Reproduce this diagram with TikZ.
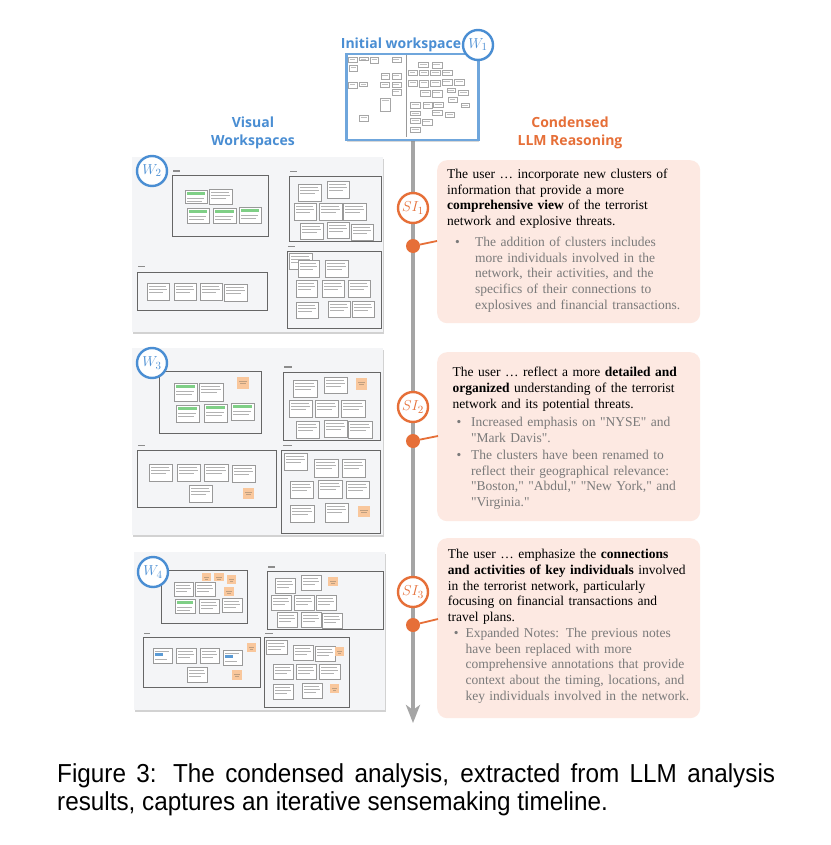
\documentclass[tikz,border=0pt]{standalone}
\usepackage{fontspec}
\usepackage{graphicx}
\setmainfont{Liberation Serif}[Ligatures=TeXOff]
\newfontfamily\capfont{Liberation Sans}
\newfontfamily\hdfont{Open Sans}
\usetikzlibrary{arrows.meta,shadows}

\definecolor{wsblue}{HTML}{4A8ED3}
\definecolor{wsframe}{HTML}{6FA6DC}
\definecolor{llmorange}{HTML}{E66F38}
\definecolor{boxpink}{HTML}{FDE9E2}
\definecolor{panelbg}{HTML}{F4F5F7}
\definecolor{tlgray}{HTML}{A5A5A5}
\definecolor{bulgray}{HTML}{7A7A7A}
\definecolor{stickyor}{HTML}{F9C79C}
\definecolor{hlgreen}{HTML}{7FCF86}
\definecolor{hlblue}{HTML}{5B9BD5}

\tikzset{
 panel/.style={fill=panelbg, draw=none, anchor=north west, inner sep=0pt,
   drop shadow={shadow xshift=1.2pt, shadow yshift=-2.2pt, opacity=0.35}},
 iframe/.style={fill=white, draw=wsframe, line width=2.5pt, anchor=north west, inner sep=0pt,
   drop shadow={shadow xshift=1.2pt, shadow yshift=-2pt, opacity=0.3}},
 grp/.style={draw=black!60, line width=0.5pt},
 lbl/.style={draw=black!45, line width=1.1pt},
 cardline/.style={draw=black!40, fill=white, line width=0.35pt},
 tinycard/.style={draw=black!35, fill=white, line width=0.3pt},
 cardtext/.style={draw=black!30, line width=0.45pt},
 wcirc/.style={circle, draw=wsblue, line width=2.4pt, fill=white, minimum size=30pt, inner sep=0pt,
   text=wsblue, font=\fontsize{15.5}{15.5}\selectfont,
   drop shadow={shadow xshift=0.8pt, shadow yshift=-1pt, opacity=0.25}},
 sicirc/.style={circle, draw=llmorange, line width=2.4pt, fill=white, minimum size=30pt, inner sep=0pt,
   text=llmorange, font=\fontsize{15.5}{15.5}\selectfont},
 odot/.style={circle, fill=llmorange, minimum size=14pt, inner sep=0pt},
 olink/.style={draw=llmorange, line width=1.8pt},
 llmbox/.style={fill=boxpink, rounded corners=10pt, anchor=north west, inner sep=0pt},
 llmtext/.style={anchor=north west, inner sep=0pt, text width=250pt,
   font=\fontsize{13.5}{15.75}\selectfont},
 hdblue/.style={text=wsblue, font=\hdfont\bfseries\fontsize{14}{14}\selectfont, anchor=base, inner sep=0pt},
 hdorange/.style={hdblue, text=llmorange},
 timeline/.style={draw=tlgray, line width=3.5pt, -{Stealth[length=18pt, width=14pt, inset=5pt]}},
}

\newcommand{\wcard}[4]{%
  \path[cardline] (#1,#2) rectangle (#3,#4);
  \draw[cardtext] ([shift={(2,3.5)}]#1,#2) -- ([shift={(-3,3.5)}]#3,#2)
    ([shift={(2,6.5)}]#1,#2) -- ([shift={(-2,6.5)}]#3,#2)
    ([shift={(2,9.5)}]#1,#2) -- ([shift={(-6,9.5)}]#3,#2);}
\newcommand{\gcard}[4]{%
  \path[cardline] (#1,#2) rectangle (#3,#4);
  \fill[hlgreen] ([shift={(2,2)}]#1,#2) rectangle ([shift={(-2,5)}]#3,#2);
  \draw[cardtext] ([shift={(2,8)}]#1,#2) -- ([shift={(-3,8)}]#3,#2)
    ([shift={(2,11)}]#1,#2) -- ([shift={(-5,11)}]#3,#2);}
\newcommand{\bcard}[4]{%
  \path[cardline] (#1,#2) rectangle (#3,#4);
  \fill[hlblue] ([shift={(2,5)}]#1,#2) rectangle ([shift={(-9,8)}]#3,#2);
  \draw[cardtext] ([shift={(2,3)}]#1,#2) -- ([shift={(-3,3)}]#3,#2)
    ([shift={(2,11)}]#1,#2) -- ([shift={(-5,11)}]#3,#2);}
\newcommand{\scard}[4]{%
  \fill[stickyor] (#1,#2) rectangle (#3,#4);
  \draw[orange!50!black!50, line width=0.35pt] ([shift={(2,4)}]#1,#2) -- ([shift={(-2,4)}]#3,#2)
    ([shift={(3,6.5)}]#1,#2) -- ([shift={(-3,6.5)}]#3,#2);}
\newcommand{\tcard}[4]{%
  \path[tinycard] (#1,#2) rectangle (#3,#4);
  \draw[black!25, line width=0.3pt] ([shift={(1.5,2)}]#1,#2) -- ([shift={(-1.5,2)}]#3,#2);}

\begin{document}
\begin{tikzpicture}[x=1pt, y=-1pt]
\useasboundingbox (0,0) rectangle (830,845);
\fill[white] (0,0) rectangle (830,845);

% ---------- headers ----------
\node[hdblue] (hiw) at (401,49) {Initial workspace};
\node[hdblue] (hv1) at (253,128) {Visual};
\node[hdblue] (hv2) at (253,146) {Workspaces};
\node[hdorange] (hl1) at (570,128) {Condensed};
\node[hdorange] (hl2) at (570,146) {LLM Reasoning};

% ---------- timeline ----------
\coordinate (tltop) at (413,139);
\coordinate (tlend) at (413,723);
\draw[timeline] (tltop) -- (tlend);

% ---------- initial workspace ----------
\node[iframe, minimum width=132pt, minimum height=86pt] (p1) at (345,53) {};
\draw[black!40, line width=0.4pt] (406,55) -- (406,137);
\tcard{348.3}{56.7}{356.7}{61.7}
\tcard{359.3}{56.7}{367.7}{60}
\tcard{370}{56.7}{378.3}{63.3}
\tcard{391.7}{56.7}{400.7}{61.7}
\tcard{349.3}{65}{357.3}{70.7}
\tcard{348.3}{81.7}{356.7}{88.3}
\tcard{359.3}{81.7}{367.3}{86}
\tcard{380.7}{72.7}{389.3}{79.3}
\tcard{391.7}{72.7}{400.7}{79.3}
\tcard{380}{81.7}{389.3}{86.7}
\tcard{391.7}{81.7}{400.7}{86.7}
\tcard{391.7}{89.3}{400.7}{95}
\tcard{380}{98.3}{390}{110.7}
\tcard{359.3}{115}{368.3}{120.7}
\tcard{418.3}{61.7}{428.3}{66.7}
\tcard{431.7}{61.7}{441.7}{68.3}
\tcard{408.3}{70}{416.7}{75}
\tcard{419.3}{70}{428.3}{75}
\tcard{430}{70}{440}{75}
\tcard{441.7}{70}{451.7}{75}
\tcard{408.3}{80}{417.3}{85.7}
\tcard{419.3}{80}{428.3}{86.7}
\tcard{430}{80}{440}{85.7}
\tcard{441.7}{79.3}{451.7}{85}
\tcard{454}{79.3}{464}{85}
\tcard{420}{90}{430}{96}
\tcard{431.7}{90}{441.7}{96.7}
\tcard{446.7}{88.3}{455}{91.7}
\tcard{458.3}{90}{468.3}{95}
\tcard{448.3}{96.7}{456.7}{101.7}
\tcard{410}{101.7}{420}{108.3}
\tcard{422.7}{101.7}{431.7}{108.3}
\tcard{433.3}{101.7}{443.3}{106.7}
\tcard{460.7}{103.3}{469.3}{107.3}
\tcard{410}{110.7}{420}{115}
\tcard{431.7}{110}{441.7}{115}
\tcard{445}{111.7}{454}{116.7}
\tcard{410}{118.3}{420}{123.3}
\tcard{421.7}{119.3}{431.7}{125}
\tcard{410}{126.7}{420}{131.7}

% ---------- W2 panel ----------
\node[panel, minimum width=251pt, minimum height=175pt] (p2) at (132,157) {};
\draw[grp] (172,175) rectangle (268,236);
\draw[grp] (289,176) rectangle (381,241);
\draw[grp] (287,251) rectangle (381,328);
\draw[grp] (137,272) rectangle (267,310);
\draw[lbl] (173,171) -- (180,171);
\draw[lbl] (290,171.5) -- (297,171.5);
\draw[lbl] (288,246.5) -- (295,246.5);
\draw[lbl] (138,266.5) -- (145,266.5);
\gcard{185}{190}{207}{203}
\wcard{209}{189}{232}{204}
\gcard{187}{208}{209}{223}
\gcard{213}{208}{236}{223}
\gcard{239}{207}{261}{223}
\wcard{298}{184}{321}{201}
\wcard{327}{181}{349}{198}
\wcard{294}{203}{316}{220}
\wcard{319}{203}{342}{220}
\wcard{343}{203}{366}{220}
\wcard{300}{223}{323}{239}
\wcard{327}{222}{349}{238}
\wcard{351}{224}{373}{240}
\wcard{289}{253}{312}{269}
\wcard{298}{260}{319}{277}
\wcard{325}{260}{348}{277}
\wcard{296}{280}{317}{297}
\wcard{322}{280}{344}{297}
\wcard{348}{280}{370}{297}
\wcard{296}{302}{318}{318}
\wcard{328}{301}{350}{317}
\wcard{352}{301}{374}{317}
\wcard{147}{283}{169}{300}
\wcard{174}{283}{196}{300}
\wcard{200}{283}{222}{300}
\wcard{224}{284}{247}{301}

% ---------- W3 panel ----------
\node[panel, minimum width=251pt, minimum height=187pt] (p3) at (132,348) {};
\draw[grp] (159,371) rectangle (261,433);
\draw[grp] (283,372) rectangle (380,440);
\draw[grp] (137,450) rectangle (276,507);
\draw[grp] (281,450) rectangle (380,533);
\draw[lbl] (284,367) -- (292,367);
\draw[lbl] (138,445.5) -- (145,445.5);
\draw[lbl] (283,445.5) -- (292,445.5);
\gcard{174}{383}{197}{401}
\wcard{199}{383}{223}{401}
\gcard{176}{405}{199}{422}
\gcard{204}{404}{227}{422}
\gcard{231}{403}{254}{420}
\scard{237}{377}{249}{389}
\wcard{293}{380}{317}{397}
\wcard{324}{377}{347}{393}
\scard{356}{378}{367}{390}
\wcard{289}{400}{312}{417}
\wcard{315}{400}{338}{417}
\wcard{341}{400}{365}{417}
\wcard{296}{421}{319}{438}
\wcard{324}{420}{347}{437}
\wcard{348}{421}{372}{438}
\wcard{149}{464}{172}{481}
\wcard{177}{464}{200}{481}
\wcard{204}{464}{228}{481}
\wcard{232}{465}{255}{482}
\wcard{189}{485}{212}{502}
\scard{243}{488}{254}{499}
\wcard{284}{453}{307}{470}
\wcard{314}{459}{338}{477}
\wcard{342}{459}{365}{477}
\wcard{290}{481}{313}{498}
\wcard{318}{480}{342}{498}
\wcard{346}{481}{369}{498}
\wcard{290}{505}{314}{522}
\wcard{325}{503}{348}{522}
\scard{358}{506}{370}{517}

% ---------- W4 panel ----------
\node[panel, minimum width=251pt, minimum height=158pt] (p4) at (134,552) {};
\draw[grp] (161,570) rectangle (247,623);
\draw[grp] (267,571) rectangle (383,629);
\draw[grp] (143,637) rectangle (260,687);
\draw[grp] (264,637) rectangle (349,707);
\draw[lbl] (268,567) -- (275,567);
\draw[lbl] (144,633.5) -- (150,633.5);
\draw[lbl] (265,633.5) -- (273,633.5);
\wcard{174}{582}{193}{596}
\wcard{195}{582}{215}{596}
\gcard{175}{599}{195}{613}
\wcard{199}{599}{219}{613}
\wcard{222}{598}{242}{612}
\scard{202}{573}{211}{581}
\scard{214}{573}{224}{581}
\scard{227}{575}{236}{584}
\scard{224}{587}{234}{596}
\wcard{275}{578}{295}{593}
\wcard{301}{575}{321}{590}
\scard{328}{577}{338}{586}
\wcard{271}{595}{291}{610}
\wcard{294}{595}{314}{610}
\wcard{316}{595}{336}{610}
\wcard{277}{612}{297}{627}
\wcard{301}{612}{321}{627}
\wcard{322}{613}{342}{628}
\bcard{153}{648}{172}{663}
\wcard{176}{648}{196}{663}
\wcard{200}{648}{219}{663}
\bcard{223}{650}{242}{665}
\wcard{187}{667}{207}{682}
\scard{247}{643}{256}{652}
\scard{232}{670}{242}{680}
\wcard{266}{640}{287}{654}
\wcard{293}{645}{313}{660}
\wcard{315}{646}{335}{661}
\scard{335}{647}{344}{656}
\wcard{273}{664}{293}{679}
\wcard{296}{664}{316}{679}
\wcard{319}{664}{340}{679}
\wcard{273}{684}{293}{699}
\wcard{302}{683}{322}{698}
\scard{330}{684}{339}{693}

% ---------- W circles ----------
\node[wcirc] (w1) at (478,45) {$W_1$};
\node[wcirc] (w2) at (152,171) {$W_2$};
\node[wcirc] (w3) at (152,363) {$W_3$};
\node[wcirc] (w4) at (153,572) {$W_4$};

% ---------- LLM boxes ----------
\node[llmbox, minimum width=263pt, minimum height=163pt] (b1) at (437,160) {};
\node[llmbox, minimum width=263pt, minimum height=169pt] (b2) at (437,352) {};
\node[llmbox, minimum width=263pt, minimum height=180pt] (b3) at (437,538) {};

\node[llmtext] (t1) at (447,167.3) {\parindent=0pt
\rule{0pt}{11pt}The user … incorporate new clusters of\newline
information that provide a more\newline
\textbf{comprehensive view} of the terrorist\newline
network and explosive threats.\par
\vspace{5pt}
{\color{bulgray}\noindent\hangindent=28pt\hangafter=1\makebox[28pt][l]{\hspace{8pt}•}The addition of clusters includes\newline
more individuals involved in the\newline
network, their activities, and the\newline
specifics of their connections to\newline
explosives and financial transactions.\par}};

\node[llmtext] (t2) at (452.5,365.5) {\parindent=0pt
\rule{0pt}{11pt}The user … reflect a more \textbf{detailed and}\newline
\textbf{organized} understanding of the terrorist\newline
network and its potential threats.\par
\vspace{3pt}
{\color{bulgray}\noindent\hangindent=18.5pt\hangafter=1\makebox[18.5pt][l]{\hspace{4pt}•}Increased emphasis on "NYSE" and\newline
"Mark Davis".\par
\vspace{1pt}
\noindent\hangindent=18.5pt\hangafter=1\makebox[18.5pt][l]{\hspace{4pt}•}The clusters have been renamed to\newline
reflect their geographical relevance:\newline
"Boston," "Abdul," "New York," and\newline
"Virginia."\par}};

\node[llmtext] (t3) at (447.7,547.3) {\parindent=0pt
\rule{0pt}{11pt}The user … emphasize the \textbf{connections}\newline
\textbf{and activities of key individuals} involved\newline
in the terrorist network, particularly\newline
focusing on financial transactions and\newline
travel plans.\par
{\color{bulgray}\noindent\hangindent=17.6pt\hangafter=1\makebox[17.6pt][l]{\hspace{6pt}•}Expanded Notes: The previous notes\newline
have been replaced with more\newline
comprehensive annotations that provide\newline
context about the timing, locations, and\newline
key individuals involved in the network.\par}};

% ---------- SI markers ----------
\node[sicirc] (si1) at (413,208) {$SI_1$};
\node[sicirc] (si2) at (413,407) {$SI_2$};
\node[sicirc] (si3) at (413,592) {$SI_3$};
\node[odot] (d1) at (413,246) {};
\node[odot] (d2) at (413,441) {};
\node[odot] (d3) at (413,625) {};
\coordinate (e1) at (437,241);
\coordinate (e2) at (438,436);
\coordinate (e3) at (438,619);
\draw[olink] (d1) -- (e1);
\draw[olink] (d2) -- (e2);
\draw[olink] (d3) -- (e3);

% ---------- caption ----------
\node[anchor=base west, inner sep=0pt, font=\capfont\fontsize{26}{28}\selectfont] (cap) at (57,782)
  {\scalebox{0.934}[1]{\parbox[t]{768.7pt}{Figure 3:  The condensed analysis, extracted from LLM analysis\linebreak results, captures an iterative sensemaking timeline.}}};
\end{tikzpicture}
\end{document}
